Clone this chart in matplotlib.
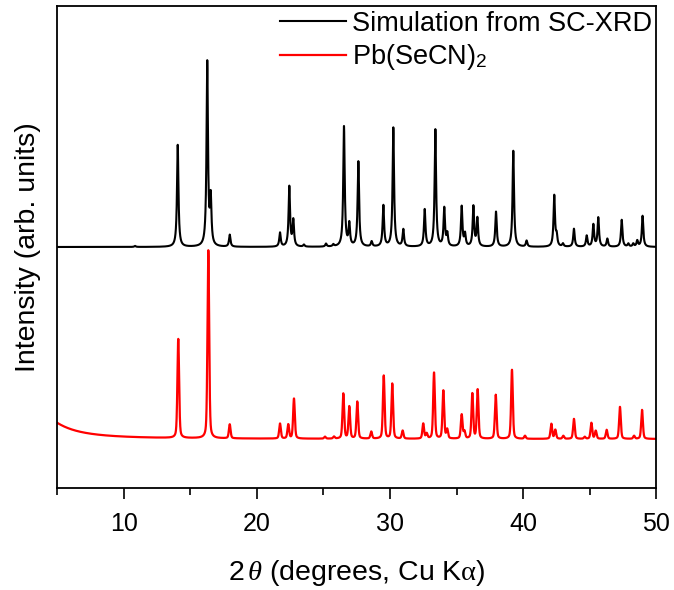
import matplotlib
matplotlib.use("Agg")
import matplotlib.pyplot as plt
import numpy as np

plt.rcParams['font.family'] = ['Liberation Sans', 'DejaVu Sans']
plt.rcParams['mathtext.fontset'] = 'custom'
plt.rcParams['mathtext.rm'] = 'Liberation Serif'
plt.rcParams['mathtext.it'] = 'Liberation Serif:italic'
plt.rcParams['mathtext.sf'] = 'Liberation Sans'

# simulated pattern from single-crystal data: peak positions (2theta) and heights (arb.)
sim_pos = [10.83, 14.04, 16.26, 16.52, 17.95, 21.73, 22.43, 22.73, 23.53, 25.19, 25.74,
           26.54, 26.94, 27.62, 28.62, 29.50, 30.25, 31.00, 32.61, 33.41, 34.08, 34.31,
           35.39, 35.64, 36.27, 36.57, 37.97, 39.27, 40.27, 42.35, 42.53, 43.00, 43.83,
           44.79, 45.29, 45.66, 46.34, 47.42, 47.92, 48.29, 48.59, 48.99]
sim_int = [1, 102, 184, 46, 12, 14, 60, 26, 2, 3, 2,
           120, 22, 85, 5, 41, 119, 17, 37, 117, 38, 12,
           40, 12, 40, 28, 35, 96, 6, 51, 10, 3, 18,
           11, 22, 29, 8, 27, 3, 3, 6, 31]

# measured Pb(SeCN)2 powder pattern: peak positions and heights (arb.)
exp_pos = [14.08, 16.34, 17.95, 21.73, 22.35, 22.78, 25.11, 25.79, 26.49, 26.94, 27.54,
           28.59, 29.53, 30.17, 30.95, 32.50, 32.76, 33.31, 34.01, 34.30, 35.39, 35.60,
           36.19, 36.59, 37.95, 39.17, 40.15, 42.13, 42.43, 43.03, 43.83, 44.64, 45.14,
           45.47, 46.29, 47.29, 48.35, 48.95]
exp_int = [99, 188, 14, 15, 14, 40, 2, 2, 45, 32, 37,
           7, 63, 55, 8, 15, 5, 66, 48, 9, 24, 7,
           45, 49, 44, 69, 3, 15, 9, 3, 20, 2, 16,
           8, 9, 32, 3, 29]

# low-angle background of the measured pattern (broad hump below 5 deg)
bg_pos = 3.0
bg_int = 32

sim_offset = 241
exp_offset = 49

tt = np.linspace(5, 50, 9001)


def lorentz(x, x0, h, w):
    return h / (1 + ((x - x0) / w) ** 2)


def pvoigt(x, x0, h, w, eta=0.4):
    g = np.exp(-np.log(2) * ((x - x0) / w) ** 2)
    return h * (eta / (1 + ((x - x0) / w) ** 2) + (1 - eta) * g)


sim = np.full_like(tt, sim_offset, dtype=float)
for p, h in zip(sim_pos, sim_int):
    sim += lorentz(tt, p, h, 0.065)

exp = np.full_like(tt, exp_offset, dtype=float)
exp += lorentz(tt, bg_pos, bg_int, 2.0)
for p, h in zip(exp_pos, exp_int):
    exp += pvoigt(tt, p, h, 0.075)

fig = plt.figure(figsize=(6.74, 5.9), dpi=100)
ax = fig.add_axes([0.0853, 0.1729, 0.888, 0.8169])

ax.plot(tt, sim, color='black', lw=1.5, label='Simulation from SC-XRD')
ax.plot(tt, exp, color='#ff0000', lw=1.6, label=r'Pb(SeCN)$_\mathsf{2}$')

ax.set_xlim(5, 50)
ax.set_ylim(0, 482)
ax.set_xticks([10, 20, 30, 40, 50])
ax.set_xticks([5, 15, 25, 35, 45], minor=True)
ax.set_yticks([])
ax.tick_params(axis='x', which='major', direction='out', length=8, width=1.2,
               labelsize=18, pad=9)
ax.tick_params(axis='x', which='minor', direction='out', length=5, width=1.2)
for s in ax.spines.values():
    s.set_linewidth(1.3)

ax.set_xlabel(r'2$\,\theta$ (degrees, Cu K$\mathrm{\alpha}$)', fontsize=20.5, labelpad=16)
ax.set_ylabel('Intensity (arb. units)', fontsize=20.5, labelpad=12)

ax.legend(loc='upper left', bbox_to_anchor=(0.372, 0.99), frameon=False,
          fontsize=19.5, handlelength=2.45, handletextpad=0.2,
          borderpad=0, borderaxespad=0, labelspacing=0.2)

fig.savefig('out.png', dpi=100)
